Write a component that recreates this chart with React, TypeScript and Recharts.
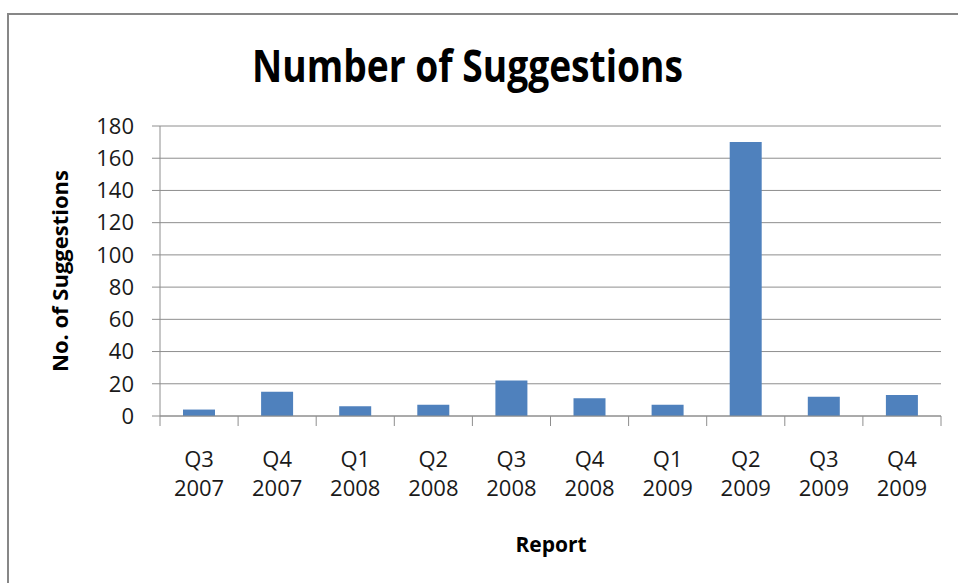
import { BarChart, Bar, XAxis, YAxis, CartesianGrid } from "recharts";

const quarters = [
  "Q3 2007",
  "Q4 2007",
  "Q1 2008",
  "Q2 2008",
  "Q3 2008",
  "Q4 2008",
  "Q1 2009",
  "Q2 2009",
  "Q3 2009",
  "Q4 2009",
];
const suggestions = [4, 15, 6, 7, 22, 11, 7, 170, 12, 13];
const yTicks = [0, 20, 40, 60, 80, 100, 120, 140, 160, 180];

const data = quarters.map((q, i) => ({ report: q, count: suggestions[i] }));

const FONT = "'Open Sans', 'Noto Sans', sans-serif";
const GRID = "#8e8e8e";
const PLOT_LEFT = 160;
const PLOT_RIGHT = 941;
const BAND = (PLOT_RIGHT - PLOT_LEFT) / quarters.length;

function QuarterTick(props: any) {
  const { x, y, payload, index } = props;
  const [q, yr] = String(payload.value).split(" ");
  const left = x - BAND / 2;
  return (
    <g>
      <line x1={left} y1={y} x2={left} y2={y + 10} stroke={GRID} />
      {index === quarters.length - 1 && (
        <line x1={left + BAND} y1={y} x2={left + BAND} y2={y + 10} stroke={GRID} />
      )}
      <text x={x} y={y + 51} textAnchor="middle" fontSize={22} fontFamily={FONT} fill="#1a1a1a">
        {q}
      </text>
      <text x={x} y={y + 80} textAnchor="middle" fontSize={22} fontFamily={FONT} fill="#1a1a1a">
        {yr}
      </text>
    </g>
  );
}

export default function App() {
  return (
    <div
      style={{
        position: "absolute",
        left: 0,
        top: 0,
        width: 958,
        height: 583,
        overflow: "hidden",
        background: "#fff",
      }}
    >
      <div
        style={{
          position: "absolute",
          left: 7,
          top: 13,
          width: 1000,
          height: 700,
          border: "2px solid #878787",
          boxSizing: "border-box",
        }}
      />
      <div style={{ position: "absolute", left: 0, top: 0 }}>
        <BarChart
          width={958}
          height={583}
          data={data}
          margin={{ top: 126, right: 958 - PLOT_RIGHT, left: 0, bottom: 0 }}
          barSize={32}
        >
          <CartesianGrid vertical={false} stroke={GRID} strokeDasharray="" />
          <XAxis
            dataKey="report"
            height={583 - 416}
            axisLine={{ stroke: GRID }}
            tickLine={false}
            tickSize={0}
            tickMargin={0}
            interval={0}
            tick={<QuarterTick />}
          />
          <YAxis
            width={PLOT_LEFT}
            domain={[0, 180]}
            ticks={yTicks}
            interval={0}
            axisLine={{ stroke: GRID }}
            tickLine={{ stroke: GRID }}
            tickSize={8}
            tickMargin={18}
            tick={{ fontSize: 22, fontFamily: FONT, fill: "#1a1a1a" }}
          />
          <Bar dataKey="count" fill="#4f81bd" isAnimationActive={false} />
        </BarChart>
      </div>
      <svg
        width={958}
        height={583}
        style={{ position: "absolute", left: 0, top: 0, pointerEvents: "none" }}
      >
        <text
          x={252}
          y={82}
          fontSize={44}
          fontWeight="bold"
          fontFamily={FONT}
          textLength={431}
          lengthAdjust="spacingAndGlyphs"
          fill="#000"
        >
          Number of Suggestions
        </text>
        <text
          x={551}
          y={552}
          textAnchor="middle"
          fontSize={21}
          fontWeight="bold"
          fontFamily={FONT}
          fill="#000"
        >
          Report
        </text>
        <text
          transform="translate(68,271) rotate(-90)"
          x={-101}
          y={0}
          fontSize={21}
          fontWeight="bold"
          fontFamily={FONT}
          textLength={202}
          lengthAdjust="spacingAndGlyphs"
          fill="#000"
        >
          No. of Suggestions
        </text>
      </svg>
    </div>
  );
}
